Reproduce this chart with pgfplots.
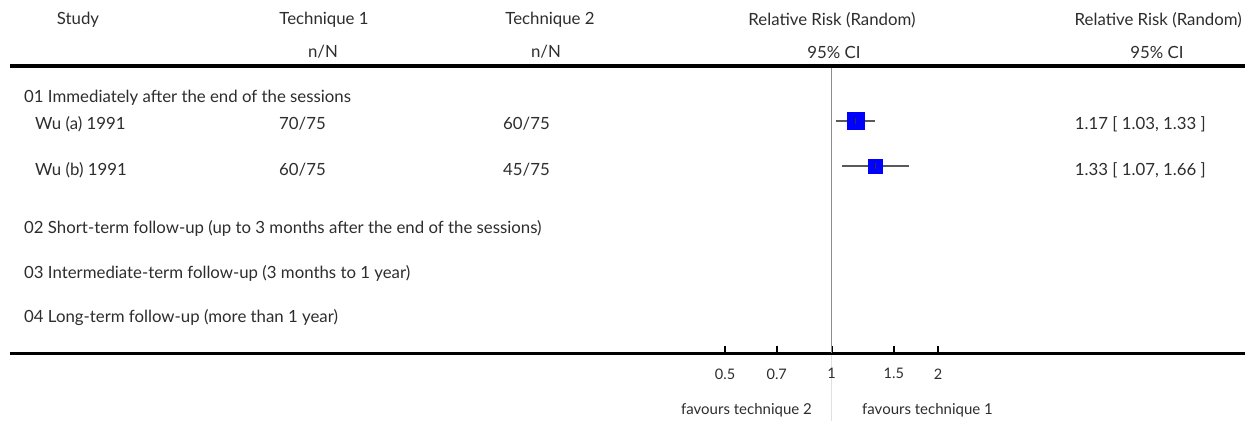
\documentclass[border=0pt]{standalone}
\usepackage{pgfplots}
\pgfplotsset{compat=1.18}
\usepackage{fontspec}
\setmainfont{Lato}
\definecolor{txt}{RGB}{45,45,45}
\begin{document}
\begin{tikzpicture}[x=1pt,y=1pt]
\path[use as bounding box] (0,0) rectangle (1245,421);
\draw[black!12, line width=1pt] (831.5,0) -- (831.5,66);
\begin{axis}[at={(10pt,68pt)}, anchor=south west, scale only axis,
  width=1235pt, height=287pt,
  xmode=log, xmin=0.004755, xmax=14.76, ymin=-353, ymax=-66,
  axis x line*=bottom, axis y line=none,
  axis line style={line width=3pt, -},
  xtick={0.5,0.7,1,1.5,2}, xticklabels={0.5,0.7,1,1.5,2},
  minor xtick={}, tick align=inside, major tick length=7pt,
  tick style={line width=2pt, black},
  xticklabel style={font=\fontsize{14.5}{16}\selectfont, text=txt, yshift=-12pt},
  clip=false]
% reference line
\addplot[black!45, line width=1pt] coordinates {(1,-66) (1,-353)};
% Wu (a)
\addplot[only marks, mark=square*, mark size=8.5pt, color={rgb,255:red,0;green,0;blue,255}] coordinates {(1.17,-121)};
\addplot[black!65, line width=1.6pt] coordinates {(1.03,-121) (1.33,-121)};
\addplot[only marks, mark=|, mark size=3pt, black!80, mark options={line width=1.2pt}] coordinates {(1.17,-121)};
% Wu (b)
\addplot[only marks, mark=square*, mark size=7pt, color={rgb,255:red,0;green,0;blue,255}] coordinates {(1.33,-166)};
\addplot[black!65, line width=1.6pt] coordinates {(1.07,-166) (1.66,-166)};
\addplot[only marks, mark=|, mark size=3pt, black!80, mark options={line width=1.2pt}] coordinates {(1.33,-166)};
\end{axis}
\draw[line width=4pt] (10,355) -- (1245,355);
\begin{scope}[every node/.style={font=\fontsize{16.8}{19}\selectfont, text=txt, inner sep=0pt}]
\node at (78,401) {Study};
\node at (324,401) {Technique 1};
\node at (550,401) {Technique 2};
\node at (832,401) {Relative Risk (Random)};
\node[anchor=east] at (1242,401) {Relative Risk (Random)};
\node at (323,369) {n/N};
\node at (546,369) {n/N};
\node at (834,369) {95\% CI};
\node at (1157,369) {95\% CI};
\node[anchor=west] at (24,323) {01 Immediately after the end of the sessions};
\node[anchor=west] at (35,297) {Wu (a) 1991};
\node[anchor=west] at (279,297) {70/75};
\node[anchor=west] at (503,297) {60/75};
\node[anchor=east] at (1206,297) {1.17 [ 1.03, 1.33 ]};
\node[anchor=west] at (35,251) {Wu (b) 1991};
\node[anchor=west] at (279,251) {60/75};
\node[anchor=west] at (503,251) {45/75};
\node[anchor=east] at (1206,251) {1.33 [ 1.07, 1.66 ]};
\node[anchor=west] at (24,193) {02 Short-term follow-up (up to 3 months after the end of the sessions)};
\node[anchor=west] at (24,148) {03 Intermediate-term follow-up (3 months to 1 year)};
\node[anchor=west] at (24,103) {04 Long-term follow-up (more than 1 year)};
\end{scope}
\begin{scope}[every node/.style={font=\fontsize{15}{17}\selectfont, text=txt, inner sep=0pt}]
\node[anchor=east] at (812,11) {favours technique 2};
\node[anchor=west] at (862,11) {favours technique 1};
\end{scope}
\end{tikzpicture}
\end{document}
